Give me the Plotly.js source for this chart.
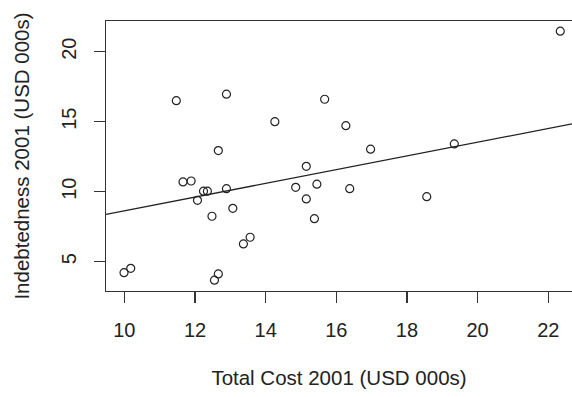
<!DOCTYPE html>
<html>
<head>
<meta charset="utf-8">
<script src="https://cdn.plot.ly/plotly-3.0.1.min.js"></script>
<style>html,body{margin:0;padding:0;background:#fff;overflow:hidden}</style>
</head>
<body>
<div id="chart" style="width:572px;height:397px"></div>
<script>
// Total Cost 2001 (USD 000s)
const totalCost = [11.47, 12.89, 14.26, 15.67, 12.66, 11.66, 11.89, 12.24, 12.35, 12.89,
                   12.07, 13.07, 12.48, 13.56, 13.37, 9.99, 10.18, 12.66, 12.55, 15.15,
                   14.85, 15.45, 15.15, 15.38, 22.34, 16.27, 16.97, 16.38, 18.56, 19.34];
// Indebtedness 2001 (USD 000s)
const indebtedness = [16.5, 16.96, 15.0, 16.6, 12.93, 10.69, 10.76, 10.03, 10.03, 10.21,
                      9.38, 8.81, 8.24, 6.74, 6.26, 4.21, 4.52, 4.12, 3.67, 11.81,
                      10.31, 10.53, 9.48, 8.07, 21.46, 14.71, 13.03, 10.21, 9.64, 13.41];
// fitted line
const fitIntercept = 3.73;
const fitSlope = 0.49;
const xTicks = [10, 12, 14, 16, 18, 20, 22];
const yTicks = [5, 10, 15, 20];

const xRange = [9.48, 22.672];
const yRange = [2.9, 22.19];
const lineX = xRange.slice();
const lineY = lineX.map(v => fitIntercept + fitSlope * v);

const ink = '#222';
const font = {family: 'Liberation Sans, Arial, sans-serif', size: 20, color: ink};
const titleFont = {family: 'Liberation Sans, Arial, sans-serif', size: 20.5, color: ink};

const traces = [
  {x: lineX, y: lineY, type: 'scatter', mode: 'lines',
   line: {color: ink, width: 1.3}, hoverinfo: 'skip'},
  {x: totalCost, y: indebtedness, type: 'scatter', mode: 'markers',
   marker: {symbol: 'circle-open', size: 8, color: ink, line: {width: 1.2, color: ink}}}
];

const layout = {
  width: 572, height: 397,
  margin: {l: 106, r: 0, t: 21, b: 106},
  paper_bgcolor: '#fff', plot_bgcolor: '#fff',
  showlegend: false,
  font: font,
  xaxis: {
    range: xRange, tickvals: xTicks, ticktext: xTicks.map(String),
    showgrid: false, zeroline: false,
    showline: true, mirror: true, linecolor: '#333', linewidth: 1.2,
    ticks: 'outside', ticklen: 11, tickwidth: 1.2, tickcolor: '#333',
    tickfont: font, ticklabelstandoff: 10,
    title: {text: 'Total Cost 2001 (USD 000s)', font: titleFont, standoff: 30}
  },
  yaxis: {
    range: yRange, tickvals: yTicks, ticktext: yTicks.map(String),
    showgrid: false, zeroline: false,
    showline: true, mirror: false, linecolor: '#333', linewidth: 1.2,
    ticks: 'outside', ticklen: 11, tickwidth: 1.2, tickcolor: '#333',
    tickangle: -90, tickfont: font, ticklabelstandoff: 10,
    title: {text: 'Indebtedness 2001 (USD 000s)', font: titleFont, standoff: 22}
  }
};

Plotly.newPlot('chart', traces, layout, {displayModeBar: false, staticPlot: true});
</script>
</body>
</html>
